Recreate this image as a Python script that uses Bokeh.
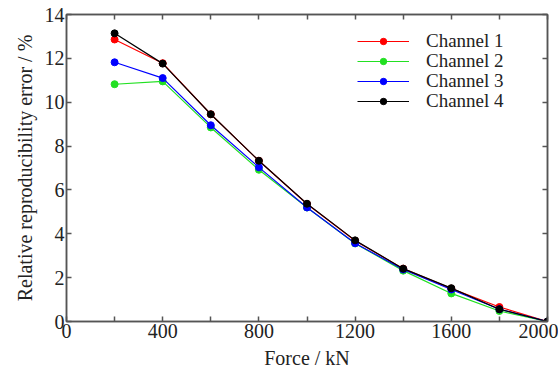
from bokeh.plotting import figure
from bokeh.models import (LinearAxis, FixedTicker, Legend, LegendItem, Range1d)
from bokeh.embed import file_html
from bokeh.resources import INLINE

force = [200, 400, 600, 800, 1000, 1200, 1400, 1600, 1800, 2000]
ch1 = [12.86, 11.78, 9.45, 7.33, 5.36, 3.68, 2.41, 1.50, 0.66, 0.0]
ch2 = [10.82, 10.95, 8.85, 6.92, 5.20, 3.56, 2.32, 1.28, 0.48, 0.0]
ch3 = [11.82, 11.10, 8.95, 7.03, 5.20, 3.57, 2.37, 1.46, 0.56, 0.0]
ch4 = [13.14, 11.76, 9.45, 7.33, 5.37, 3.70, 2.41, 1.52, 0.56, 0.0]
names = ["Channel 1", "Channel 2", "Channel 3", "Channel 4"]
colors = ["#ff0000", "#22e022", "#0000ff", "#000000"]
x_major = [0, 400, 800, 1200, 1600, 2000]
x_minor = [200, 600, 1000, 1400, 1800]
y_major = [0, 2, 4, 6, 8, 10, 12, 14]

FONT = "Liberation Serif"
AX = "#555555"
TXT = "#222222"

p = figure(width=558, height=383, output_backend="svg", toolbar_location=None,
           x_range=Range1d(0, 2000), y_range=Range1d(0, 14),
           min_border_left=66, min_border_right=11, min_border_top=14, min_border_bottom=62)
p.grid.visible = False
p.outline_line_color = AX
p.outline_line_width = 1.5

xt = FixedTicker(ticks=x_major, minor_ticks=x_minor)
yt = FixedTicker(ticks=y_major, minor_ticks=[])

def style(ax, labels=True):
    ax.axis_line_color = AX
    ax.axis_line_width = 1.5
    ax.major_tick_line_color = AX
    ax.minor_tick_line_color = AX
    ax.major_tick_line_width = 1.5
    ax.minor_tick_line_width = 1.5
    ax.major_tick_in = 5
    ax.major_tick_out = 0
    ax.minor_tick_in = 5
    ax.minor_tick_out = 0
    ax.major_label_text_font = FONT
    ax.major_label_text_font_size = "20px"
    ax.major_label_text_color = TXT
    ax.major_label_standoff = 2
    ax.axis_label_text_font = FONT
    ax.axis_label_text_font_size = "20px"
    ax.axis_label_text_font_style = "normal"
    ax.axis_label_text_color = TXT
    if not labels:
        ax.major_label_overrides = {t: "" for t in ax.ticker.ticks}
        ax.major_label_standoff = 0

p.xaxis.ticker = xt
p.yaxis.ticker = yt
style(p.xaxis[0])
style(p.yaxis[0])
p.xaxis.axis_label = "Force / kN"
p.yaxis.axis_label = "Relative reproducibility error / %"
p.xaxis.axis_label_standoff = 6
p.yaxis.axis_label_standoff = 6

top = LinearAxis(ticker=xt)
style(top, labels=False)
p.add_layout(top, "above")
right = LinearAxis(ticker=yt)
style(right, labels=False)
p.add_layout(right, "right")

for i, (name, col, ys) in enumerate(zip(names, colors, [ch1, ch2, ch3, ch4])):
    l = p.line(force, ys, line_color=col, line_width=1.2)
    s = p.scatter(force, ys, size=7, fill_color=col, line_color=col)
    leg = Legend(items=[LegendItem(label=name, renderers=[l, s])],
                 location=(291, 269 - 20 * i), glyph_width=52, glyph_height=16,
                 label_standoff=17, label_text_font=FONT, label_text_font_size="19px",
                 label_text_color=TXT, label_height=16, spacing=0, padding=0, margin=0,
                 border_line_color=None, background_fill_alpha=0)
    p.add_layout(leg, "center")

open("out.html", "w").write(file_html(p, INLINE))
